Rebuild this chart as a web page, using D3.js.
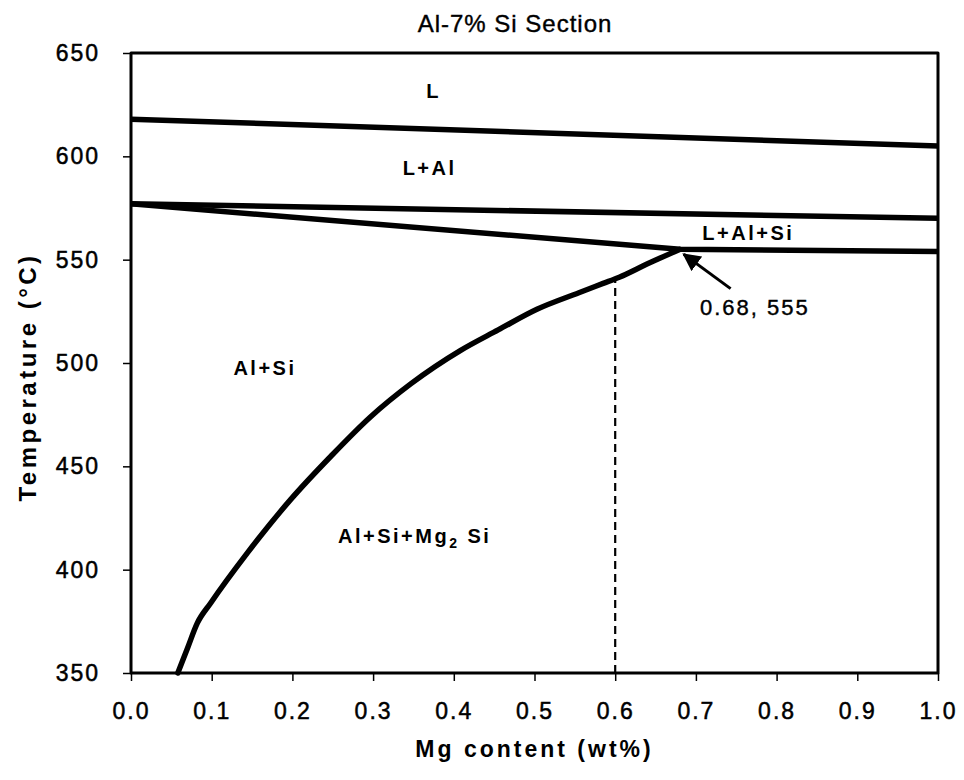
<!DOCTYPE html>
<html>
<head>
<meta charset="utf-8">
<script src="https://cdn.jsdelivr.net/npm/d3@7"></script>
<style>
  html, body { margin: 0; padding: 0; background: #fff; }
  svg { display: block; }
  text { font-family: "Liberation Sans", Arial, sans-serif; fill: #000; }
</style>
</head>
<body>
<svg id="chart" width="964" height="780"></svg>
<script>
// Al-7% Si isopleth section: temperature vs Mg content
const xTicks = [0, 0.1, 0.2, 0.3, 0.4, 0.5, 0.6, 0.7, 0.8, 0.9, 1.0];
const yTicks = [350, 400, 450, 500, 550, 600, 650];

// Liquidus (L / L+Al)
const liquidus = [{ mg: 0, t: 618 }, { mg: 1.0, t: 605 }];
// Start of Al-Si eutectic (L+Al / L+Al+Si)
const eutecticStart = [{ mg: 0, t: 577 }, { mg: 1.0, t: 570 }];
// End of solidification: Al+Si line down to the ternary point, then flat
const solidus = [{ mg: 0, t: 577 }, { mg: 0.68, t: 555 }, { mg: 1.0, t: 554 }];
// Mg2Si solvus
const solvus = [
  { mg: 0.058, t: 350 }, { mg: 0.070, t: 362 }, { mg: 0.082, t: 374 },
  { mg: 0.099, t: 384 }, { mg: 0.144, t: 408 }, { mg: 0.198, t: 434 },
  { mg: 0.248, t: 455 }, { mg: 0.297, t: 474 }, { mg: 0.347, t: 490 },
  { mg: 0.408, t: 506 }, { mg: 0.455, t: 516 }, { mg: 0.503, t: 526 },
  { mg: 0.555, t: 534 }, { mg: 0.585, t: 538.5 }, { mg: 0.605, t: 541.5 },
  { mg: 0.640, t: 548 }, { mg: 0.68, t: 555 }
];
// Composition of interest (dashed marker)
const markerMg = 0.6;
const markerT = [350, 541];
// Ternary point annotation
const ternary = { mg: 0.68, t: 555, label: "0.68, 555" };
const arrowTail = { mg: 0.743, t: 536 };

const phaseLabels = [
  { text: "L", mg: 0.375, t: 628 },
  { text: "L+Al", mg: 0.37, t: 591 },
  { text: "L+Al+Si", mg: 0.765, t: 559.5 },
  { text: "Al+Si", mg: 0.166, t: 494 },
];

const svg = d3.select("#chart");
const margin = { top: 53, right: 26, bottom: 107, left: 131 };
const W = 964, H = 780;
const x = d3.scaleLinear().domain([0, 1]).range([margin.left, W - margin.right]);
const y = d3.scaleLinear().domain([350, 650]).range([H - margin.bottom, margin.top]);

const line = d3.line().x(d => x(d.mg)).y(d => y(d.t));
const curve = d3.line().x(d => x(d.mg)).y(d => y(d.t)).curve(d3.curveMonotoneX);

// Axes
const xAxis = svg.append("g")
  .attr("transform", `translate(0,${y(350)})`)
  .call(d3.axisBottom(x).tickValues(xTicks).tickFormat(d3.format(".1f")).tickSize(8).tickPadding(22));
const yAxis = svg.append("g")
  .attr("transform", `translate(${x(0)},0)`)
  .call(d3.axisLeft(y).tickValues(yTicks).tickSize(8).tickPadding(23));

[xAxis, yAxis].forEach(g => {
  g.select(".domain").remove();
  g.selectAll(".tick line").attr("stroke", "#000").attr("stroke-width", 1.5);
  g.selectAll(".tick text")
    .style("font-size", "23px")
    .style("letter-spacing", "2px")
    .attr("fill", "#000")
    .attr("stroke", "#000").attr("stroke-width", 0.5);
});

// Plot frame
svg.append("rect")
  .attr("x", x(0)).attr("y", y(650))
  .attr("width", x(1) - x(0)).attr("height", y(350) - y(650))
  .attr("fill", "none").attr("stroke", "#000").attr("stroke-width", 3)
  .attr("stroke-linejoin", "round");

// Dashed composition marker
svg.append("line")
  .attr("x1", x(markerMg)).attr("x2", x(markerMg))
  .attr("y1", y(markerT[0])).attr("y2", y(markerT[1]))
  .attr("stroke", "#000").attr("stroke-width", 2.2)
  .attr("stroke-dasharray", "8,5");

// Phase boundaries
const boundaries = svg.append("g")
  .attr("fill", "none").attr("stroke", "#000")
  .attr("stroke-width", 5.5).attr("stroke-linejoin", "round");
boundaries.append("path").attr("d", line(liquidus));
boundaries.append("path").attr("d", line(eutecticStart));
boundaries.append("path").attr("d", line(solidus));
boundaries.append("path").attr("d", curve(solvus)).attr("stroke-linecap", "round");

// Arrow to the ternary point
svg.append("defs").append("marker")
  .attr("id", "arrowhead")
  .attr("viewBox", "0 0 10 10").attr("refX", 9).attr("refY", 5)
  .attr("markerWidth", 6).attr("markerHeight", 6)
  .attr("markerUnits", "strokeWidth")
  .attr("orient", "auto")
  .append("path").attr("d", "M0,0 L10,5 L0,10 z").attr("fill", "#000");
svg.append("line")
  .attr("x1", x(arrowTail.mg)).attr("y1", y(arrowTail.t))
  .attr("x2", x(ternary.mg) + 4).attr("y2", y(ternary.t) + 5)
  .attr("stroke", "#000").attr("stroke-width", 3)
  .attr("marker-end", "url(#arrowhead)");
svg.append("text")
  .attr("x", 700).attr("y", 315)
  .style("font-size", "22px").style("letter-spacing", "2px")
  .attr("stroke", "#000").attr("stroke-width", 0.4)
  .text(ternary.label);

// Phase field labels
svg.append("g").selectAll("text").data(phaseLabels).join("text")
  .attr("x", d => x(d.mg)).attr("y", d => y(d.t))
  .attr("text-anchor", "middle")
  .style("font-size", "20px").style("font-weight", "bold").style("letter-spacing", "2.5px")
  .text(d => d.text);

const mg2si = svg.append("text")
  .attr("x", 338).attr("y", 543)
  .style("font-size", "20px").style("font-weight", "bold").style("letter-spacing", "2.5px");
mg2si.append("tspan").text("Al+Si+Mg");
mg2si.append("tspan").attr("dy", 5).style("font-size", "14px").text("2");
mg2si.append("tspan").attr("dy", -5).text(" Si");

// Title and axis titles
svg.append("text")
  .attr("x", 515).attr("y", 32).attr("text-anchor", "middle")
  .style("font-size", "24px").style("letter-spacing", "1px")
  .attr("stroke", "#000").attr("stroke-width", 0.4)
  .text("Al-7% Si  Section");
svg.append("text")
  .attr("x", x(0.5)).attr("y", 757).attr("text-anchor", "middle")
  .style("font-size", "23px").style("font-weight", "bold").style("letter-spacing", "3px")
  .text("Mg content (wt%)");
svg.append("text")
  .attr("transform", `translate(36,377) rotate(-90)`)
  .attr("text-anchor", "middle")
  .style("font-size", "24px").style("font-weight", "bold").style("letter-spacing", "3.5px")
  .text("Temperature (°C)");
</script>
</body>
</html>
